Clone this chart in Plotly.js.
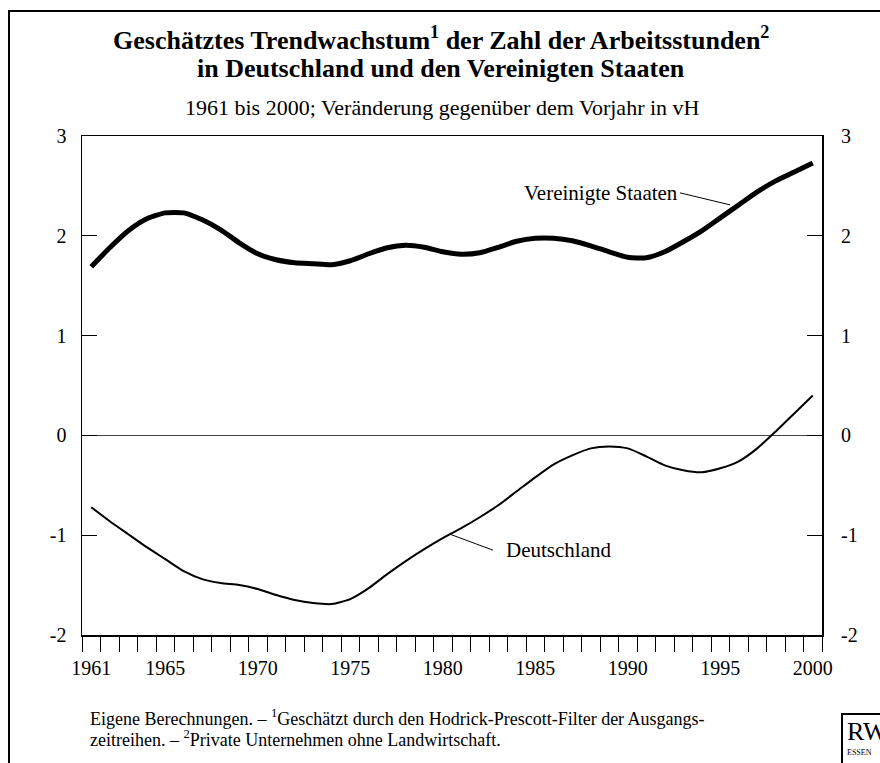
<!DOCTYPE html>
<html>
<head>
<meta charset="utf-8">
<script src="https://cdn.plot.ly/plotly-3.0.1.min.js"></script>
<style>
html,body{margin:0;padding:0;background:#fff;}
#chart{width:880px;height:763px;}
</style>
</head>
<body>
<div id="chart"></div>
<script>
// ---- data ----
const years = [1961,1962,1963,1964,1965,1966,1967,1968,1969,1970,
               1971,1972,1973,1974,1975,1976,1977,1978,1979,1980,
               1981,1982,1983,1984,1985,1986,1987,1988,1989,1990,
               1991,1992,1993,1994,1995,1996,1997,1998,1999,2000];
const usa = [1.69,1.88,2.05,2.17,2.23,2.23,2.16,2.06,1.93,1.82,
             1.76,1.73,1.72,1.71,1.75,1.82,1.88,1.905,1.885,1.84,
             1.815,1.83,1.885,1.945,1.975,1.975,1.95,1.90,1.84,1.785,
             1.78,1.84,1.94,2.05,2.18,2.31,2.44,2.55,2.64,2.73];
const germany = [-0.72,-0.86,-0.99,-1.12,-1.24,-1.36,-1.44,-1.48,-1.50,-1.54,
                 -1.60,-1.65,-1.68,-1.69,-1.64,-1.53,-1.39,-1.26,-1.14,-1.03,
                 -0.93,-0.82,-0.70,-0.56,-0.42,-0.29,-0.20,-0.13,-0.11,-0.13,
                 -0.21,-0.30,-0.35,-0.37,-0.33,-0.26,-0.13,0.04,0.22,0.40];
const xTickLabels = [1961,1965,1970,1975,1980,1985,1990,1995,2000];
const yTicks = [-2,-1,0,1,2,3];
const seriesNames = ['Vereinigte Staaten','Deutschland'];
const titleLine1 = 'Geschätztes Trendwachstum<sup>1</sup> der Zahl der Arbeitsstunden<sup>2</sup>';
const titleLine2 = 'in Deutschland und den Vereinigten Staaten';
const subtitle = '1961 bis 2000; Veränderung gegenüber dem Vorjahr in vH';
const foot1 = 'Eigene Berechnungen. – <sup>1</sup>Geschätzt durch den Hodrick-Prescott-Filter der Ausgangs-';
const foot2 = 'zeitreihen. – <sup>2</sup>Private Unternehmen ohne Landwirtschaft.';

// ---- layout helpers ----
const W = 880, H = 763;
const M = {l:82, r:58, t:136, b:128};
const pw = W - M.l - M.r, ph = H - M.t - M.b;
const px = x => (x - M.l) / pw;          // pixel -> paper x
const py = y => (H - M.b - y) / ph;      // pixel -> paper y
const F = 'Liberation Serif, Times New Roman, serif';
const xr = [years[0]-0.5, years[years.length-1]+0.5];

const traces = [
  {x: years, y: usa, type:'scatter', mode:'lines', name: seriesNames[0],
   line:{color:'#000', width:5, shape:'spline', smoothing:0.6}, xaxis:'x', yaxis:'y'},
  {x: years, y: germany, type:'scatter', mode:'lines', name: seriesNames[1],
   line:{color:'#000', width:2, shape:'spline', smoothing:0.6}, xaxis:'x', yaxis:'y2'}
];

const layout = {
  width: W, height: H,
  margin: M,
  paper_bgcolor:'#fff', plot_bgcolor:'#fff',
  showlegend:false,
  font:{family:F, color:'#000', size:20},
  xaxis:{
    range: xr, tickmode:'array', tickvals: xTickLabels, ticktext: xTickLabels.map(String),
    ticks:'', tickfont:{family:F, size:20, color:'#000'}, ticklabelstandoff:14,
    minor:{tickmode:'linear', tick0: xr[0], dtick:1, ticks:'outside', ticklen:15,
           tickwidth:1, tickcolor:'#000', showgrid:false},
    showgrid:false, zeroline:false,
    showline:true, linecolor:'#000', linewidth:1.5, mirror:true, fixedrange:true
  },
  yaxis:{
    range:[-2,3], tickmode:'array', tickvals:yTicks, ticktext:yTicks.map(String),
    ticks:'inside', ticklen:15, tickwidth:1, tickcolor:'#000',
    showline:true, linecolor:'#000', linewidth:1.5, mirror:'ticks',
    showgrid:false, zeroline:true, zerolinecolor:'#444', zerolinewidth:1,
    tickfont:{family:F, size:20, color:'#000'}, ticklabelstandoff:10, fixedrange:true
  },
  yaxis2:{
    range:[-2,3], overlaying:'y', side:'right', anchor:'x',
    tickmode:'array', tickvals:yTicks, ticktext:yTicks.map(String),
    ticks:'', showline:false, showgrid:false, zeroline:false,
    tickfont:{family:F, size:20, color:'#000'}, ticklabelstandoff:18, fixedrange:true
  },
  shapes:[
    {type:'rect', xref:'paper', yref:'paper', x0:px(9), x1:px(905), y0:py(11), y1:py(800),
     line:{color:'#000', width:2}, fillcolor:'rgba(0,0,0,0)', layer:'above'},
    {type:'rect', xref:'paper', yref:'paper', x0:px(842), x1:px(905), y0:py(714), y1:py(800),
     line:{color:'#000', width:2}, fillcolor:'rgba(0,0,0,0)', layer:'above'}
  ],
  annotations:[
    {xref:'paper', yref:'paper', x:px(441), y:py(39), text:titleLine1, showarrow:false,
     xanchor:'center', yanchor:'middle', font:{family:F, size:26, color:'#000', weight:'bold'}},
    {xref:'paper', yref:'paper', x:px(441), y:py(69), text:titleLine2, showarrow:false,
     xanchor:'center', yanchor:'middle', font:{family:F, size:26, color:'#000', weight:'bold'}},
    {xref:'paper', yref:'paper', x:px(442), y:py(108), text:subtitle, showarrow:false,
     xanchor:'center', yanchor:'middle', font:{family:F, size:22, color:'#000'}},
    {xref:'paper', yref:'paper', x:px(88), y:py(717), text:foot1, showarrow:false,
     xanchor:'left', yanchor:'middle', font:{family:F, size:18, color:'#000'}},
    {xref:'paper', yref:'paper', x:px(88), y:py(738), text:foot2, showarrow:false,
     xanchor:'left', yanchor:'middle', font:{family:F, size:18, color:'#000'}},
    {xref:'paper', yref:'paper', x:px(845), y:py(731), text:'RWI', showarrow:false,
     xanchor:'left', yanchor:'middle', font:{family:F, size:26, color:'#000'}},
    {xref:'paper', yref:'paper', x:px(845), y:py(752), text:'ESSEN', showarrow:false,
     xanchor:'left', yanchor:'middle', font:{family:F, size:8, color:'#000'}},
    {xref:'x', yref:'y', x:1995.53, y:2.31, ax:-50, ay:-12, axref:'pixel', ayref:'pixel',
     text:seriesNames[0], showarrow:true, arrowhead:0, arrowwidth:1, arrowcolor:'#000',
     xanchor:'right', yanchor:'middle', font:{family:F, size:21, color:'#000'}},
    {xref:'x', yref:'y', x:1980.39, y:-0.99, ax:43, ay:16, axref:'pixel', ayref:'pixel',
     text:seriesNames[1], showarrow:true, arrowhead:0, arrowwidth:1, arrowcolor:'#000',
     xanchor:'left', yanchor:'middle', borderpad:12, font:{family:F, size:21, color:'#000'}}
  ]
};

Plotly.newPlot('chart', traces, layout, {displayModeBar:false, staticPlot:true});
</script>
</body>
</html>
